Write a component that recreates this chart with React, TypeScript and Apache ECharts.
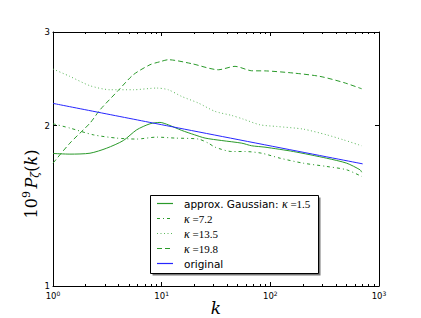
import React, { useEffect, useRef } from "react";
import * as echarts from "echarts";

// κ = 1.5 (approx. Gaussian)
const kGauss = [1, 1.43, 2.19, 3.12, 4.44, 5.89, 7.81, 9.65, 11.5, 15.3, 20.1, 25.1, 35.7, 54.5, 67.3, 89.3, 163, 330, 504, 669, 693];
const pGauss = [1.774, 1.769, 1.776, 1.815, 1.876, 1.965, 2.017, 2.029, 2.008, 1.96, 1.923, 1.896, 1.876, 1.855, 1.834, 1.823, 1.789, 1.738, 1.701, 1.653, 1.636];

// κ = 7.2
const k72 = [1, 1.43, 2.35, 3.85, 5.89, 9.0, 13.3, 21.8, 26.9, 31.0, 44.1, 58.5, 83.2, 123, 201, 330, 504, 693];
const p72 = [2.017, 1.98, 1.923, 1.896, 1.888, 1.904, 1.896, 1.888, 1.855, 1.823, 1.789, 1.789, 1.776, 1.738, 1.701, 1.677, 1.653, 1.606];

// κ = 13.5
const k135 = [1, 1.43, 2.19, 3.35, 5.49, 9.0, 11.5, 15.3, 21.8, 31.0, 44.1, 56.4, 80.3, 114, 201, 330, 470, 693];
const p135 = [2.556, 2.476, 2.378, 2.337, 2.337, 2.354, 2.337, 2.27, 2.206, 2.128, 2.091, 2.058, 2.008, 1.994, 1.971, 1.923, 1.882, 1.834];

// κ = 19.8
const k198 = [1, 1.43, 2.19, 2.71, 3.99, 5.49, 7.81, 9.65, 11.5, 18.9, 33.2, 47.3, 67.3, 92.5, 163, 286, 470, 693];
const p198 = [1.701, 1.855, 2.023, 2.143, 2.33, 2.494, 2.604, 2.638, 2.661, 2.616, 2.548, 2.586, 2.537, 2.535, 2.512, 2.476, 2.412, 2.347];

// original
const kOrig = [1, 10, 708];
const pOrig = [2.203, 2.009, 1.696];

const xMajor = [1, 10, 100, 1000];
const xMinor = [2, 3, 4, 5, 6, 7, 8, 9, 20, 30, 40, 50, 60, 70, 80, 90, 200, 300, 400, 500, 600, 700, 800, 900];
const yTicks = [1, 2, 3];

const legendLabels = ["approx. Gaussian: ", "κ", "κ", "κ", "original"];
const legendValues = ["1.5", "7.2", "13.5", "19.8", ""];

const GREEN = "#2a9a2a";
const LIGHTGREEN = "#5cb85c";
const BLUE = "#2626ff";

const zip = (a: number[], b: number[]) => a.map((v, i) => [v, b[i]]);

export default function App() {
  const ref = useRef<HTMLDivElement>(null);
  useEffect(() => {
    if (!ref.current) return;
    const chart = echarts.init(ref.current, null, { renderer: "svg" });
    const sansFont = "DejaVu Sans";
    const serif = "DejaVu Serif";
    const mathSerif = "Liberation Serif";

    const baseX = (position: string) => ({
      type: "log",
      logBase: 10,
      min: 1,
      max: 1000,
      position,
      splitLine: { show: false },
      minorTick: { show: false },
    });

    const xAxes = [
      {
        ...baseX("bottom"),
        axisLine: { show: true, onZero: false, lineStyle: { color: "#000", width: 1 } },
        axisTick: { show: true, inside: true, length: 4, customValues: xMajor, lineStyle: { color: "#000" } },
        axisLabel: {
          show: true,
          customValues: xMajor,
          margin: 4,
          formatter: (v: number) => `{b|10}{s|${Math.round(Math.log10(v))}}`,
          rich: {
            b: { fontSize: 8.5, fontFamily: sansFont, color: "#000", lineHeight: 11 },
            s: { fontSize: 6, fontFamily: sansFont, color: "#000", lineHeight: 6, verticalAlign: "top" },
          },
        },
      },
      {
        ...baseX("bottom"),
        axisLine: { show: false, onZero: false },
        axisTick: { show: true, inside: true, length: 2, customValues: xMinor, lineStyle: { color: "#000" } },
        axisLabel: { show: false },
      },
      {
        ...baseX("top"),
        axisLine: { show: true, onZero: false, lineStyle: { color: "#000", width: 1 } },
        axisTick: { show: true, inside: true, length: 4, customValues: xMajor, lineStyle: { color: "#000" } },
        axisLabel: { show: false },
      },
      {
        ...baseX("top"),
        axisLine: { show: false, onZero: false },
        axisTick: { show: true, inside: true, length: 2, customValues: xMinor, lineStyle: { color: "#000" } },
        axisLabel: { show: false },
      },
    ];

    const yAxes = [
      {
        type: "log",
        logBase: 10,
        min: 1,
        max: 3,
        position: "left",
        splitLine: { show: false },
        axisLine: { show: true, onZero: false, lineStyle: { color: "#000", width: 1 } },
        axisTick: { show: true, inside: true, length: 4, customValues: yTicks, lineStyle: { color: "#000" } },
        axisLabel: {
          show: true,
          customValues: yTicks,
          margin: 3,
          formatter: (v: number) => String(Math.round(v)),
          fontSize: 8.5,
          fontFamily: sansFont,
          color: "#000",
        },
      },
      {
        type: "log",
        logBase: 10,
        min: 1,
        max: 3,
        position: "right",
        splitLine: { show: false },
        axisLine: { show: true, onZero: false, lineStyle: { color: "#000", width: 1 } },
        axisTick: { show: true, inside: true, length: 4, customValues: yTicks, lineStyle: { color: "#000" } },
        axisLabel: { show: false },
      },
    ];

    const mk = (name: string, k: number[], p: number[], color: string, type: any, width = 1) => ({
      name,
      type: "line",
      xAxisIndex: 0,
      yAxisIndex: 0,
      data: zip(k, p),
      symbol: "none",
      smooth: 0.25,
      lineStyle: { color, width, type },
      emphasis: { disabled: true },
    });

    const dashes: any[] = ["solid", [3, 3, 1, 3], [1, 2.5], [5, 3], "solid"];
    const colors = [GREEN, GREEN, LIGHTGREEN, GREEN, BLUE];

    // Legend drawn as graphic elements
    const lx = 150.5, ly = 195.5, lw = 168, lh = 78;
    const legendEls: any[] = [
      { type: "rect", shape: { x: lx + 2, y: ly + 2, width: lw, height: lh }, style: { fill: "#777" }, z: 100 },
      { type: "rect", shape: { x: lx, y: ly, width: lw, height: lh }, style: { fill: "#fff", stroke: "#000", lineWidth: 1 }, z: 101 },
    ];
    for (let i = 0; i < 5; i++) {
      const yy = 203.5 + i * 15;
      const d = dashes[i];
      const lineStyle: any = { stroke: colors[i], lineWidth: 1.2, fill: "none" };
      if (Array.isArray(d)) lineStyle.lineDash = d;
      legendEls.push({
        type: "polyline",
        shape: { points: [[157, yy], [173, yy]] },
        style: lineStyle,
        z: 103,
      });
      let text = "";
      if (i === 0) text = `{s|${legendLabels[0]}}{k|${legendLabels[1]}}{m| =${legendValues[0]}}`;
      else if (i === 4) text = `{s|${legendLabels[4]}}`;
      else text = `{k|${legendLabels[i]}}{m| =${legendValues[i]}}`;
      legendEls.push({
        type: "text",
        x: 184,
        y: yy,
        z: 102,
        style: {
          text,
          textVerticalAlign: "middle",
          textAlign: "left",
          rich: {
            s: { fontSize: 10.5, fontFamily: sansFont, fill: "#000" },
            k: { fontSize: 12, fontFamily: mathSerif, fontStyle: "italic", fill: "#000" },
            m: { fontSize: 11, fontFamily: mathSerif, fill: "#000" },
          },
        },
      });
    }

    const option: any = {
      animation: false,
      backgroundColor: "#fff",
      grid: { left: 53, right: 42, top: 32, bottom: 32, containLabel: false, outerBoundsMode: "none" },
      xAxis: xAxes,
      yAxis: yAxes,
      series: [
        mk("approx. Gaussian: κ=1.5", kGauss, pGauss, GREEN, "solid"),
        mk("κ=7.2", k72, p72, GREEN, dashes[1]),
        mk("κ=13.5", k135, p135, LIGHTGREEN, dashes[2]),
        mk("κ=19.8", k198, p198, GREEN, dashes[3]),
        mk("original", kOrig, pOrig, BLUE, "solid"),
      ],
      graphic: [
        {
          type: "text",
          x: 216,
          y: 308,
          style: {
            text: "k",
            fontSize: 17,
            fontFamily: serif,
            fontStyle: "italic",
            fill: "#000",
            textAlign: "center",
            textVerticalAlign: "middle",
          },
        },
        {
          type: "text",
          x: 31,
          y: 184,
          rotation: Math.PI / 2,
          style: {
            text: "{n|10}{sup|9}{sp| }{it|P}{sub|ζ}{n|(}{it|k}{n|)}",
            textAlign: "center",
            textVerticalAlign: "middle",
            rich: {
              n: { fontSize: 16, fontFamily: serif, fill: "#000", lineHeight: 20 },
              sp: { fontSize: 8, fontFamily: serif, fill: "#000", lineHeight: 20 },
              sup: { fontSize: 11, fontFamily: serif, fill: "#000", lineHeight: 11, verticalAlign: "top" },
              it: { fontSize: 16, fontFamily: serif, fontStyle: "italic", fill: "#000", lineHeight: 20 },
              sub: { fontSize: 11, fontFamily: serif, fontStyle: "italic", fill: "#000", lineHeight: 11, verticalAlign: "bottom" },
            },
          },
        },
        ...legendEls,
      ],
    };
    chart.setOption(option);
    return () => chart.dispose();
  }, []);
  return (
    <div
      ref={ref}
      style={{ position: "fixed", left: 0, top: 0, width: 421, height: 318, background: "#fff" }}
    />
  );
}
